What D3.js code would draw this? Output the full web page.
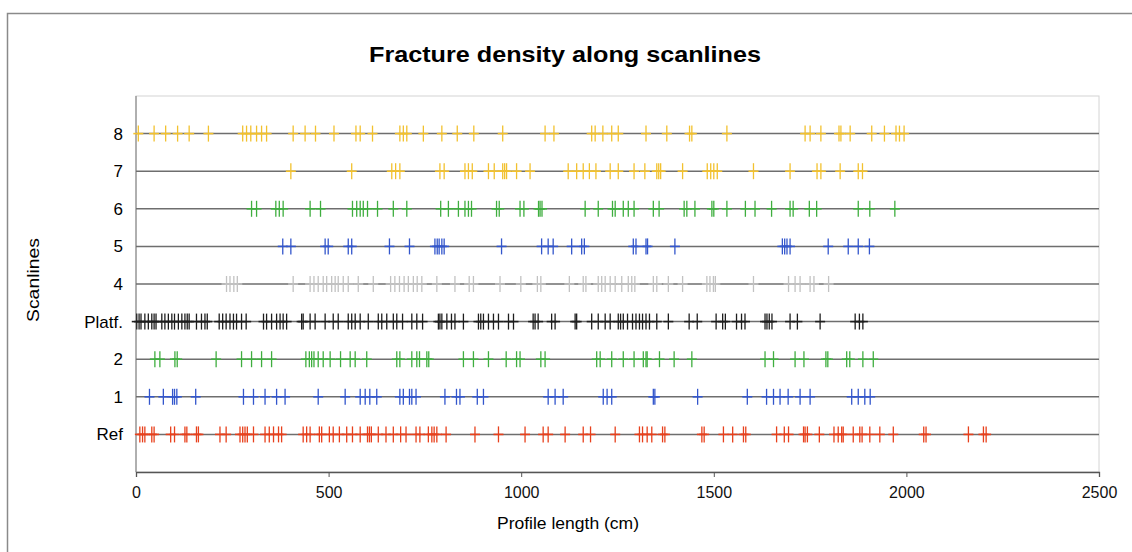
<!DOCTYPE html>
<html>
<head>
<meta charset="utf-8">
<script src="https://cdn.jsdelivr.net/npm/d3@7"></script>
<style>
  body { margin: 0; background: #fff; }
  svg { font-family: "Liberation Sans", Arial, sans-serif; }
</style>
</head>
<body>
<div id="chart"></div>
<script>
// scanline names, top to bottom
const scanlines = ["8", "7", "6", "5", "4", "Platf.", "2", "1", "Ref"];
const lineColors = ["#f2c12e", "#f2c12e", "#3fae3f", "#3356cc", "#c2c2c2", "#1e1e1e", "#3fae3f", "#3356cc", "#e8401c"];

// fracture positions (cm)
const s8 = [6, 47, 77, 108, 138, 188, 277, 287, 298, 313, 326, 339, 408, 439, 466, 514, 571, 582, 614, 685, 694, 703, 746, 794, 834, 877, 952, 1062, 1085, 1183, 1192, 1212, 1235, 1252, 1324, 1378, 1437, 1443, 1534, 1737, 1750, 1778, 1825, 1830, 1854, 1910, 1943, 1973, 1982, 1994];
const s7 = [402, 560, 664, 674, 685, 789, 800, 854, 863, 873, 915, 930, 952, 957, 962, 988, 1023, 1122, 1144, 1161, 1177, 1194, 1231, 1252, 1293, 1321, 1352, 1357, 1362, 1419, 1483, 1492, 1500, 1509, 1603, 1698, 1768, 1778, 1828, 1875, 1886];
const s6 = [300, 313, 363, 372, 382, 452, 479, 562, 573, 582, 590, 601, 627, 668, 703, 791, 811, 837, 854, 863, 871, 936, 943, 997, 1007, 1045, 1049, 1054, 1166, 1200, 1237, 1244, 1265, 1278, 1293, 1343, 1358, 1423, 1430, 1451, 1495, 1500, 1534, 1582, 1607, 1650, 1698, 1706, 1748, 1767, 1875, 1905, 1970];
const s5 = [381, 402, 491, 499, 551, 560, 658, 710, 776, 782, 787, 794, 800, 949, 1053, 1070, 1083, 1131, 1157, 1164, 1291, 1298, 1324, 1328, 1399, 1678, 1684, 1690, 1698, 1797, 1849, 1875, 1904];
const s4 = [235, 244, 254, 263, 408, 452, 462, 473, 486, 495, 508, 517, 525, 538, 551, 577, 616, 661, 672, 684, 696, 707, 720, 730, 742, 781, 828, 865, 876, 945, 999, 1042, 1051, 1125, 1161, 1168, 1200, 1209, 1218, 1231, 1244, 1261, 1278, 1287, 1295, 1343, 1352, 1382, 1419, 1482, 1490, 1499, 1504, 1603, 1694, 1711, 1724, 1750, 1760, 1798];
const sPlatf = [2, 8, 13, 23, 32, 41, 47, 52, 67, 75, 84, 93, 100, 110, 119, 127, 133, 138, 157, 170, 179, 185, 216, 225, 234, 244, 253, 261, 274, 286, 331, 339, 352, 365, 374, 382, 391, 430, 434, 452, 465, 491, 512, 525, 551, 560, 569, 582, 603, 629, 638, 651, 668, 677, 692, 716, 729, 744, 785, 789, 794, 807, 819, 828, 850, 889, 895, 902, 915, 928, 941, 967, 980, 1031, 1036, 1044, 1079, 1088, 1140, 1144, 1183, 1200, 1218, 1231, 1252, 1258, 1265, 1276, 1289, 1298, 1307, 1315, 1324, 1333, 1352, 1382, 1436, 1457, 1506, 1523, 1530, 1559, 1572, 1581, 1633, 1638, 1644, 1651, 1698, 1717, 1776, 1867, 1878, 1887];
const s2 = [49, 62, 101, 107, 208, 274, 300, 326, 352, 441, 450, 456, 462, 473, 486, 504, 531, 556, 569, 599, 677, 685, 716, 729, 736, 755, 760, 850, 876, 915, 961, 988, 997, 1051, 1062, 1196, 1205, 1235, 1265, 1293, 1317, 1324, 1327, 1359, 1397, 1443, 1633, 1655, 1711, 1734, 1791, 1796, 1845, 1853, 1887, 1914];
const s1 = [35, 71, 95, 100, 106, 155, 279, 305, 335, 365, 387, 473, 543, 582, 595, 607, 625, 685, 694, 710, 716, 727, 802, 832, 841, 886, 902, 1070, 1088, 1109, 1213, 1223, 1235, 1343, 1347, 1458, 1587, 1637, 1655, 1672, 1693, 1724, 1750, 1858, 1875, 1892, 1906];
const sRef = [10, 17, 23, 41, 47, 90, 100, 127, 132, 157, 162, 218, 234, 270, 277, 283, 289, 305, 335, 346, 357, 370, 378, 434, 443, 452, 476, 482, 502, 512, 528, 547, 562, 582, 601, 606, 611, 629, 649, 668, 687, 701, 727, 737, 759, 768, 774, 781, 805, 880, 941, 1010, 1057, 1070, 1114, 1161, 1180, 1244, 1307, 1315, 1327, 1339, 1367, 1373, 1469, 1475, 1525, 1549, 1577, 1583, 1663, 1683, 1694, 1733, 1737, 1743, 1774, 1812, 1823, 1832, 1836, 1862, 1879, 1885, 1905, 1931, 1966, 2045, 2051, 2161, 2200, 2207];
const fractures = [s8, s7, s6, s5, s4, sPlatf, s2, s1, sRef];

const xTicks = [0, 500, 1000, 1500, 2000, 2500];

const W = 1132, H = 552;
const plot = { left: 136, right: 1099, top: 96, bottom: 472 };

const svg = d3.select("#chart").append("svg")
    .attr("width", W)
    .attr("height", H);

// chart frame (runs off the picture on right and bottom)
svg.append("rect")
    .attr("x", 7.5).attr("y", 13.5)
    .attr("width", 1140).attr("height", 560)
    .attr("fill", "none")
    .attr("stroke", "#8a8a8a")
    .attr("stroke-width", 1.5);

svg.append("text")
    .attr("x", 565).attr("y", 62)
    .attr("text-anchor", "middle")
    .attr("font-weight", "bold")
    .attr("font-size", 22)
    .attr("textLength", 392)
    .attr("lengthAdjust", "spacingAndGlyphs")
    .text("Fracture density along scanlines");

const x = d3.scaleLinear().domain([0, 2500]).range([plot.left, plot.right]);
// Ref sits at 1, scanline 8 at 9
const y = d3.scaleLinear().domain([0, 10]).range([plot.bottom, plot.top]);
const rowY = i => y(scanlines.length - i);

// plot area box
svg.append("rect")
    .attr("x", plot.left).attr("y", plot.top)
    .attr("width", plot.right - plot.left)
    .attr("height", plot.bottom - plot.top)
    .attr("fill", "none")
    .attr("stroke", "#d4d4d4");

// x axis
const xAxis = svg.append("g")
    .attr("transform", `translate(0,${plot.bottom})`)
    .call(d3.axisBottom(x).tickValues(xTicks).tickFormat(d3.format("d")).tickSize(5).tickPadding(10));
xAxis.select(".domain").attr("stroke", "#555").attr("stroke-width", 1.3);
xAxis.selectAll(".tick line").attr("stroke", "#555");
xAxis.selectAll("text").attr("font-size", 16).attr("fill", "#111")
    .attr("font-family", "Liberation Sans, Arial, sans-serif");

svg.append("line")
    .attr("x1", plot.left).attr("x2", plot.left)
    .attr("y1", plot.top).attr("y2", plot.bottom)
    .attr("stroke", "#777");

svg.append("text")
    .attr("x", 568).attr("y", 529)
    .attr("text-anchor", "middle")
    .attr("font-size", 16)
    .attr("textLength", 142)
    .attr("lengthAdjust", "spacingAndGlyphs")
    .text("Profile length (cm)");

svg.append("text")
    .attr("transform", "translate(39,280) rotate(-90)")
    .attr("text-anchor", "middle")
    .attr("font-size", 17)
    .attr("textLength", 84)
    .attr("lengthAdjust", "spacingAndGlyphs")
    .text("Scanlines");

// scanline labels
svg.selectAll(".rowlabel")
    .data(scanlines)
    .join("text")
    .attr("class", "rowlabel")
    .attr("x", 123)
    .attr("y", (d, i) => rowY(i) + 6)
    .attr("text-anchor", "end")
    .attr("font-size", 17)
    .text(d => d);

// scanline base lines
svg.selectAll(".base")
    .data(scanlines)
    .join("line")
    .attr("class", "base")
    .attr("x1", plot.left).attr("x2", plot.right)
    .attr("y1", (d, i) => rowY(i)).attr("y2", (d, i) => rowY(i))
    .attr("stroke", "#6e6e6e")
    .attr("stroke-width", 1.5);

// fractures: a short dash on the line plus a vertical bar
const rows = svg.selectAll(".row")
    .data(fractures)
    .join("g")
    .attr("class", "row")
    .attr("transform", (d, i) => `translate(0,${rowY(i)})`)
    .attr("stroke", (d, i) => lineColors[i]);

rows.selectAll(".dash")
    .data(d => d)
    .join("line")
    .attr("class", "dash")
    .attr("x1", d => x(d) - 5).attr("x2", d => x(d) + 5)
    .attr("y1", 0).attr("y2", 0)
    .attr("stroke-width", 1.6);

rows.selectAll(".bar")
    .data(d => d)
    .join("line")
    .attr("class", "bar")
    .attr("x1", d => x(d)).attr("x2", d => x(d))
    .attr("y1", -8).attr("y2", 8)
    .attr("stroke-width", 1.3);
</script>
</body>
</html>
